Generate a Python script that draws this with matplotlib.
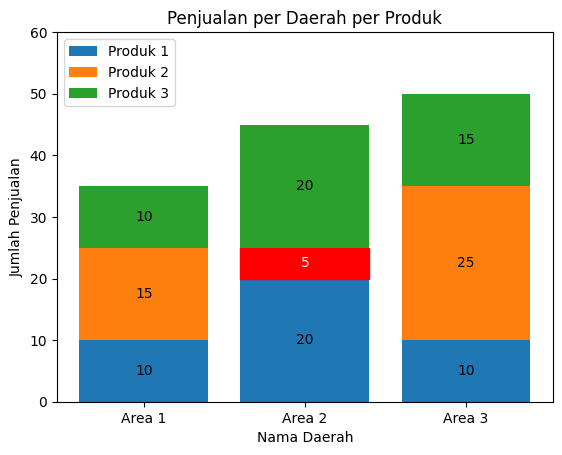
import matplotlib as mpl
mpl.use('Agg')
import matplotlib.pyplot as plt
import numpy as np

areas    = ['Area 1', 'Area 2', 'Area 3']
produk_1 = [10, 20, 10]
produk_2 = [15, 5, 25]
produk_3 = [10, 20, 15]

fig, ax = plt.subplots(figsize=(6.4, 4.8), dpi=100)

b1 = ax.bar(areas, produk_1, label='Produk 1')
b2 = ax.bar(areas, produk_2, bottom=produk_1, label='Produk 2')
bottom_3 = np.array(produk_1) + np.array(produk_2)
b3 = ax.bar(areas, produk_3, bottom=bottom_3, label='Produk 3')

# highlight the smallest segment
b2[1].set_color('red')

for bars in (b1, b2, b3):
    for rect in bars:
        h = rect.get_height()
        colour = 'white' if rect.get_facecolor()[:3] == (1.0, 0.0, 0.0) else 'black'
        ax.text(rect.get_x() + rect.get_width() / 2, rect.get_y() + h / 2,
                f'{h:.0f}', ha='center', va='center', color=colour)

ax.set_ylim(0, 60)
ax.set_title('Penjualan per Daerah per Produk')
ax.set_xlabel('Nama Daerah')
ax.set_ylabel('Jumlah Penjualan')
ax.legend(loc='upper left')

plt.savefig('out.png', bbox_inches='tight')
